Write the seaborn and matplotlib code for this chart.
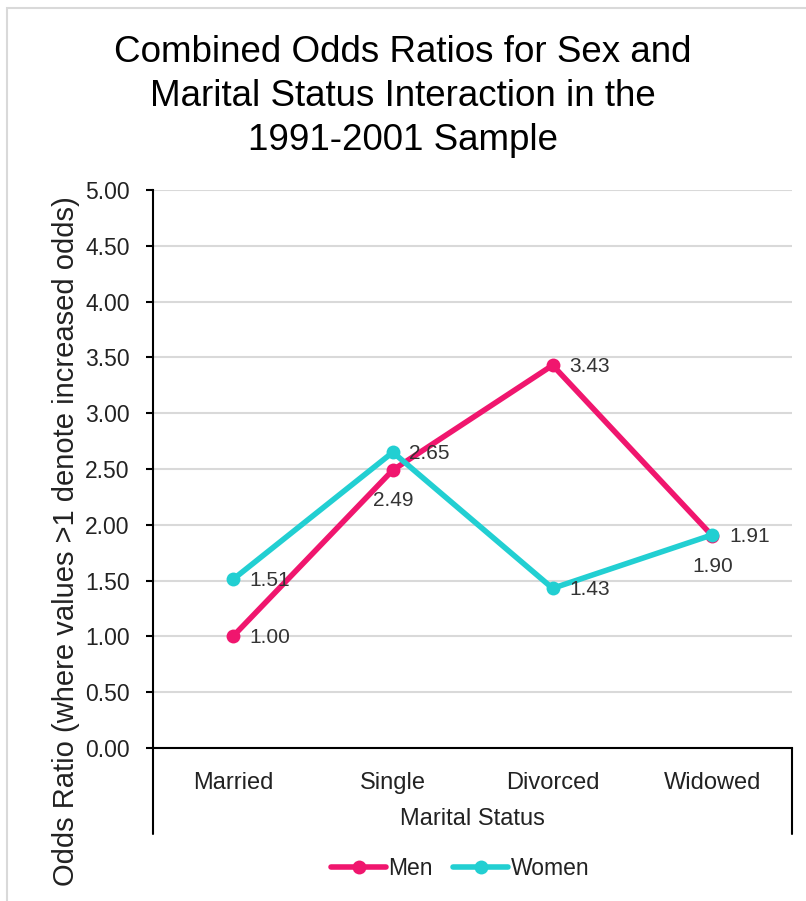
import matplotlib
matplotlib.use("Agg")
import matplotlib.pyplot as plt
import matplotlib.patches as mpatches
import seaborn as sns
import pandas as pd

# Chart data
statuses = ["Married", "Single", "Divorced", "Widowed"]
men = [1.00, 2.49, 3.43, 1.90]
women = [1.51, 2.65, 1.43, 1.91]
y_ticks = [0.0, 0.5, 1.0, 1.5, 2.0, 2.5, 3.0, 3.5, 4.0, 4.5, 5.0]

# Where each value label sits relative to its point
men_label_side = ["right", "below", "right", "below"]
women_label_side = ["right", "right", "right", "right"]

PINK = "#F0166E"
CYAN = "#22CFD2"

df = pd.DataFrame({
    "Marital Status": statuses * 2,
    "Odds Ratio": men + women,
    "Sex": ["Men"] * len(statuses) + ["Women"] * len(statuses),
})

sns.set_style("white")
plt.rcParams["font.family"] = ["Liberation Sans", "DejaVu Sans"]

fig = plt.figure(figsize=(8.06, 9.01), dpi=100)
ax = fig.add_axes([0.190, 0.170, 0.793, 0.619])

sns.lineplot(
    data=df, x="Marital Status", y="Odds Ratio", hue="Sex",
    palette={"Men": PINK, "Women": CYAN}, marker="o", markersize=10,
    markeredgewidth=0, linewidth=4, sort=False, ax=ax, legend=True,
    zorder=3,
)

# Axis ranges and grid
ax.set_xlim(-0.5, len(statuses) - 0.5)
ax.set_ylim(0, 5)
ax.set_yticks(y_ticks)
ax.set_yticklabels([f"{v:.2f}" for v in y_ticks])
ax.yaxis.grid(True, color="#D9D9D9", linewidth=1.5)
ax.set_axisbelow(True)

for side in ["top", "right"]:
    ax.spines[side].set_visible(False)
ax.spines["left"].set_color("black")
ax.spines["left"].set_linewidth(1.5)
ax.spines["bottom"].set_color("black")
ax.spines["bottom"].set_linewidth(1.5)

ax.tick_params(axis="y", which="major", left=True, length=5, width=1.5,
               direction="out", labelsize=16.5, pad=12, colors="black")
ax.tick_params(axis="x", bottom=False, labelsize=17, pad=14, colors="black")
for lbl in ax.get_yticklabels() + ax.get_xticklabels():
    lbl.set_color("#222222")

# Category axis frame lines extending below the plot
for xa in (0.0, 1.0):
    ax.plot([xa, xa], [0, -0.155], transform=ax.transAxes, color="black",
            linewidth=1.5, clip_on=False)

ax.set_xlabel("Marital Status", fontsize=17, color="#222222", labelpad=10)
ax.set_ylabel("Odds Ratio (where values >1 denote increased odds)",
              fontsize=21, color="#222222", va="center")
ax.yaxis.set_label_coords(-0.137, 0.371)

# Value labels
def label_points(values, sides):
    for i, (v, side) in enumerate(zip(values, sides)):
        if side == "right":
            ax.annotate(f"{v:.2f}", (i, v), xytext=(12, -1),
                        textcoords="offset points", ha="left", va="center",
                        fontsize=15, color="#333333", zorder=5)
        else:
            ax.annotate(f"{v:.2f}", (i, v), xytext=(0, -22),
                        textcoords="offset points", ha="center", va="center",
                        fontsize=15, color="#333333", zorder=5)

label_points(men, men_label_side)
label_points(women, women_label_side)

# Legend below the chart
handles, labels = ax.get_legend_handles_labels()
ax.get_legend().remove()
fig.legend(handles, labels, loc="center", bbox_to_anchor=(0.571, 0.0366),
           ncol=2, frameon=False, fontsize=16.5, handlelength=2.4,
           handletextpad=0.1, columnspacing=0.9, labelcolor="#222222")

fig.text(0.5, 0.893,
         "Combined Odds Ratios for Sex and\nMarital Status Interaction in the\n1991-2001 Sample",
         ha="center", va="center", fontsize=26.5, color="black", linespacing=1.32)

# Chart border
fig.patches.append(mpatches.Rectangle((0.009, -0.01), 1.0, 1.0 - 0.009 + 0.01,
                                      transform=fig.transFigure, fill=False,
                                      edgecolor="#D9D9D9", linewidth=1.5))

fig.savefig("out.png", dpi=100)
